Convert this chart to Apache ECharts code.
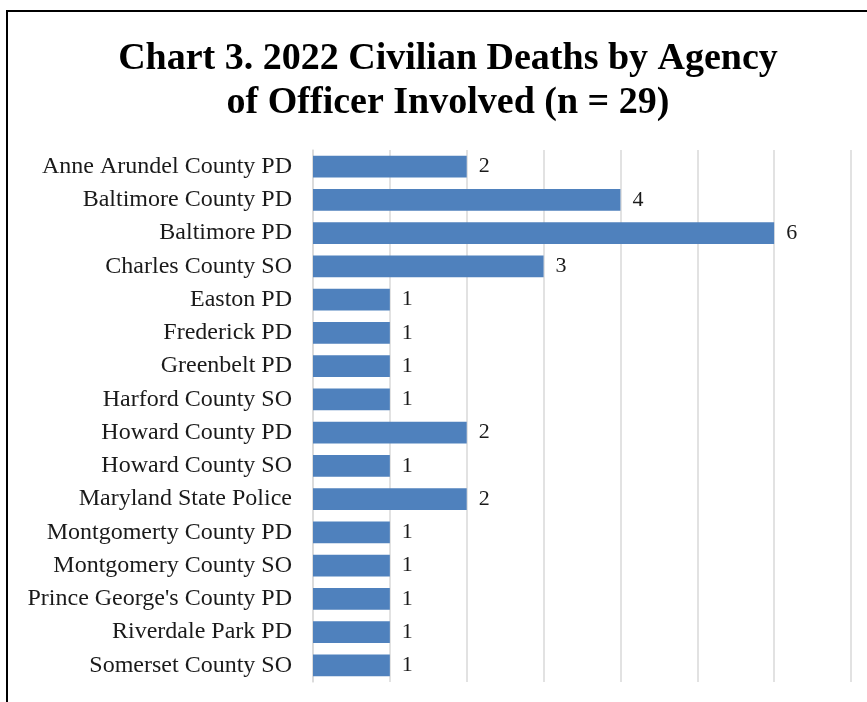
<!DOCTYPE html>
<html>
<head>
<meta charset="utf-8">
<script src="https://cdn.jsdelivr.net/npm/echarts@6/dist/echarts.min.js"></script>
<style>
  html, body { margin: 0; padding: 0; background: #fff; }
  #chart { width: 867px; height: 702px; }
</style>
</head>
<body>
<div id="chart"></div>
<script>
var agencies = [
  'Anne Arundel County PD', 'Baltimore County PD', 'Baltimore PD', 'Charles County SO',
  'Easton PD', 'Frederick PD', 'Greenbelt PD', 'Harford County SO',
  'Howard County PD', 'Howard County SO', 'Maryland State Police', 'Montgomerty County PD',
  'Montgomery County SO', "Prince George's County PD", 'Riverdale Park PD', 'Somerset County SO'
];
var deaths = [2, 4, 6, 3, 1, 1, 1, 1, 2, 1, 2, 1, 1, 1, 1, 1];
var titleLines = ['Chart 3. 2022 Civilian Deaths by Agency', 'of Officer Involved (n = 29)'];

var myChart = echarts.init(document.getElementById('chart'));
var font = '"Liberation Serif", "Times New Roman", serif';

var option = {
  animation: false,
  textStyle: { fontFamily: font },
  title: {
    text: titleLines.join('\n'),
    left: 443,
    top: 32,
    textAlign: 'center',
    textStyle: {
      fontFamily: font,
      fontSize: 38,
      fontWeight: 'bold',
      color: '#000',
      lineHeight: 44
    }
  },
  graphic: [{
    type: 'rect',
    shape: { x: 7, y: 11, width: 900, height: 800 },
    style: { fill: 'none', stroke: '#000', lineWidth: 2 }
  }],
  grid: { left: 313, right: 16, top: 150, bottom: 20 },
  xAxis: {
    type: 'value',
    min: 0,
    max: 7,
    interval: 1,
    axisLabel: { show: false },
    axisLine: { show: false },
    axisTick: { show: false },
    splitLine: { lineStyle: { color: '#d9d9d9', width: 1.5 } }
  },
  yAxis: {
    type: 'category',
    inverse: true,
    data: agencies,
    axisLine: { lineStyle: { color: '#d9d9d9', width: 1.5 } },
    axisTick: { length: 6, lineStyle: { color: '#d9d9d9', width: 1.5 } },
    axisLabel: { fontFamily: font, fontSize: 24, color: '#1a1a1a', margin: 21 }
  },
  series: [{
    type: 'bar',
    data: deaths,
    barCategoryGap: '34%',
    itemStyle: { color: '#4f81bd' },
    label: {
      show: true,
      position: 'right',
      distance: 12,
      fontFamily: font,
      fontSize: 22,
      color: '#1a1a1a'
    }
  }]
};
myChart.setOption(option);
</script>
</body>
</html>
